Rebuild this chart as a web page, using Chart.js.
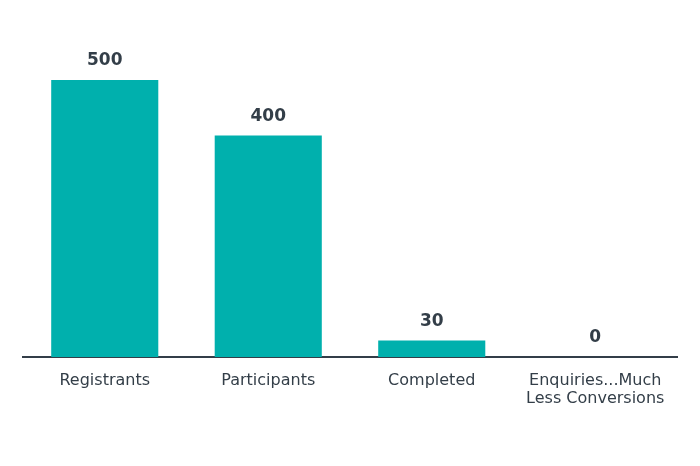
<!DOCTYPE html>
<html>
<head>
<meta charset="utf-8">
<script src="https://cdn.jsdelivr.net/npm/chart.js@4"></script>
<style>
  html, body { margin: 0; padding: 0; background: #fff; }
  #wrap { width: 700px; height: 466px; }
</style>
</head>
<body>
<div id="wrap"><canvas id="chart"></canvas></div>
<script>
// Chart data
const categories = ['Registrants', 'Participants', 'Completed', ['Enquiries...Much', 'Less Conversions']];
const values = [500, 400, 30, 0];

const barColor = '#00b0ad';
const textColor = '#333e48';

// Draw the value above each bar
const valueLabels = {
  id: 'valueLabels',
  afterDatasetsDraw(chart) {
    const ctx = chart.ctx;
    const meta = chart.getDatasetMeta(0);
    ctx.save();
    ctx.font = 'bold 17px "DejaVu Sans", Verdana, sans-serif';
    ctx.fillStyle = textColor;
    ctx.textAlign = 'center';
    ctx.textBaseline = 'middle';
    meta.data.forEach((bar, i) => {
      ctx.fillText(String(values[i]), bar.x, bar.y - 19);
    });
    ctx.restore();
  }
};

new Chart(document.getElementById('chart'), {
  type: 'bar',
  data: {
    labels: categories,
    datasets: [{
      data: values,
      backgroundColor: barColor,
      borderWidth: 0,
      barPercentage: 0.655,
      categoryPercentage: 1
    }]
  },
  options: {
    responsive: true,
    maintainAspectRatio: false,
    animation: false,
    layout: { padding: { top: 80, left: 23, right: 23, bottom: 0 } },
    plugins: {
      legend: { display: false },
      tooltip: { enabled: false }
    },
    scales: {
      x: {
        grid: { display: false, drawTicks: false },
        border: { display: true, color: textColor, width: 2 },
        ticks: {
          color: textColor,
          padding: 15,
          maxRotation: 0,
          font: { family: '"DejaVu Sans", Verdana, sans-serif', size: 16, lineHeight: '18px' }
        },
        afterFit(scale) { scale.height = 109; }
      },
      y: {
        display: false,
        min: 0,
        max: 500
      }
    }
  },
  plugins: [valueLabels]
});
</script>
</body>
</html>
